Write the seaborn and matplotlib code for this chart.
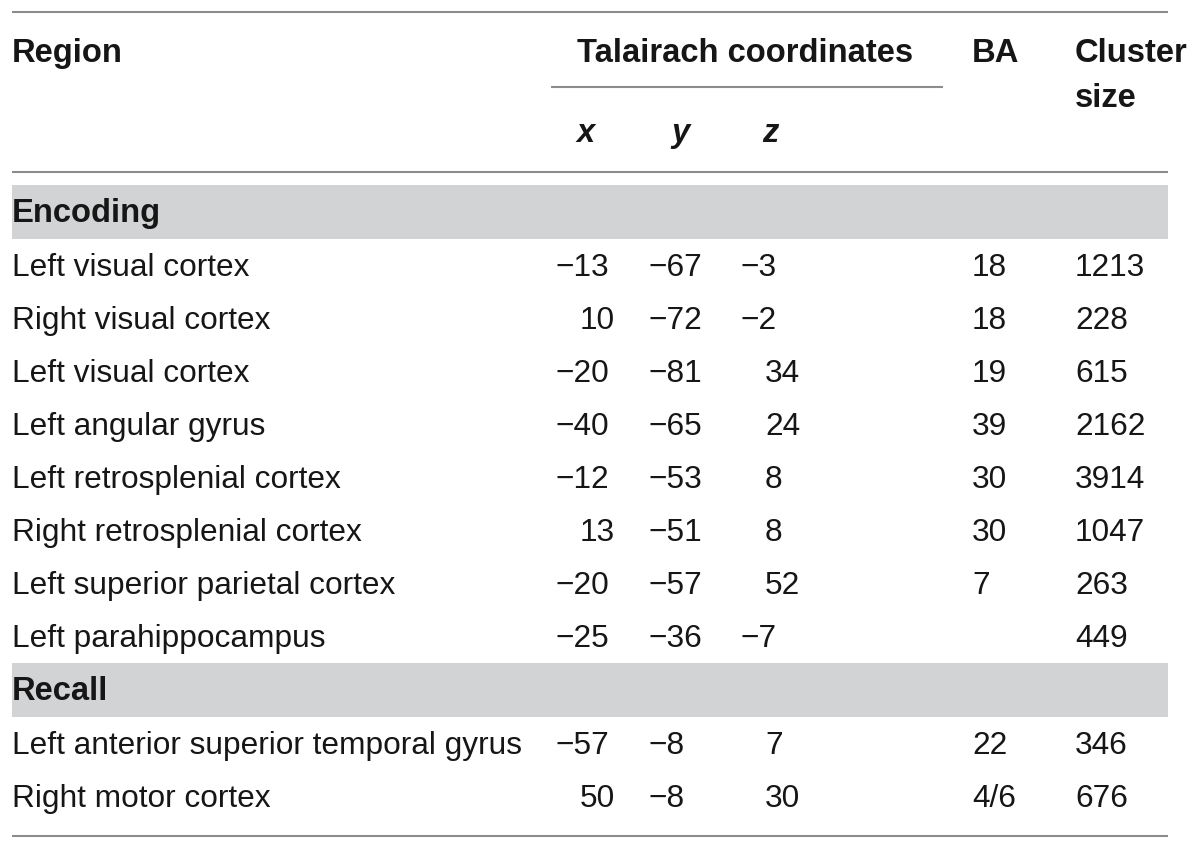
import matplotlib
matplotlib.use("Agg")
import matplotlib.pyplot as plt
import seaborn as sns

# ── Table content ────────────────────────────────────────────────────────────
SECTIONS = ["Encoding", "Recall"]
ENC_REGIONS = ["Left visual cortex", "Right visual cortex", "Left visual cortex",
               "Left angular gyrus", "Left retrosplenial cortex",
               "Right retrosplenial cortex", "Left superior parietal cortex",
               "Left parahippocampus"]
ENC_X = [-13, 10, -20, -40, -12, 13, -20, -25]
ENC_Y = [-67, -72, -81, -65, -53, -51, -57, -36]
ENC_Z = [-3, -2, 34, 24, 8, 8, 52, -7]
ENC_BA = ["18", "18", "19", "39", "30", "30", "7", ""]
ENC_SIZE = [1213, 228, 615, 2162, 3914, 1047, 263, 449]

REC_REGIONS = ["Left anterior superior temporal gyrus", "Right motor cortex"]
REC_X = [-57, 50]
REC_Y = [-8, -8]
REC_Z = [7, 30]
REC_BA = ["22", "4/6"]
REC_SIZE = [346, 676]

# ── Style ────────────────────────────────────────────────────────────────────
sns.set_theme(style="white")
plt.rcParams["font.family"] = ["Liberation Sans", "DejaVu Sans"]

INK = "#161616"
RULE = "#8c8c8c"
BAND = "#d1d3d4"
FS = 22.8     # body text
FSB = 23.6    # bold header / section text

# layout in pixel units (0..1200 x 0..849, y downwards)
LEFT, RIGHT = 12, 1168
COL_X, COL_Y, COL_Z = 555, 648, 740
COL_BA, COL_SIZE = 972, 1075
MINUS_W = 25
ROW_H = 53

fig = plt.figure(figsize=(12, 8.49), dpi=100)
ax = fig.add_axes([0, 0, 1, 1])
ax.set_xlim(0, 1200)
ax.set_ylim(849, 0)
ax.axis("off")


def rule(y, x0=LEFT, x1=RIGHT):
    ax.plot([x0, x1], [y, y], color=RULE, lw=1.5, solid_capstyle="butt")


def num(xcol, y, v):
    s = f"\u2212{abs(v)}" if v < 0 else str(v)
    x = xcol if v < 0 else xcol + MINUS_W
    ax.text(x, y, s, fontsize=FS, color=INK, ha="left", va="baseline")


# header
rule(12)
ax.text(LEFT, 62, "Region", fontsize=FSB, fontweight="bold", color=INK, va="baseline")
ax.text(745, 62, "Talairach coordinates", fontsize=FSB, fontweight="bold",
        color=INK, ha="center", va="baseline")
rule(87, 551, 943)
ax.text(COL_BA, 62, "BA", fontsize=FSB, fontweight="bold", color=INK, va="baseline")
ax.text(COL_SIZE, 62, "Cluster", fontsize=FSB, fontweight="bold", color=INK, va="baseline")
ax.text(COL_SIZE, 107, "size", fontsize=FSB, fontweight="bold", color=INK, va="baseline")
for xc, lab in zip([586, 680, 770], ["x", "y", "z"]):
    ax.text(xc, 142, lab, fontsize=FSB, fontweight="bold", style="italic",
            color=INK, ha="center", va="baseline")
rule(172)

# body
blocks = [
    (185, ENC_REGIONS, ENC_X, ENC_Y, ENC_Z, ENC_BA, ENC_SIZE),
    (663, REC_REGIONS, REC_X, REC_Y, REC_Z, REC_BA, REC_SIZE),
]
for name, (top, regions, xs, ys, zs, bas, sizes) in zip(SECTIONS, blocks):
    ax.axhspan(top, top + 54, xmin=LEFT / 1200, xmax=RIGHT / 1200, color=BAND, lw=0)
    ax.text(LEFT, top + 37, name, fontsize=FSB, fontweight="bold", color=INK, va="baseline")
    for i, reg in enumerate(regions):
        yb = top + 91 + ROW_H * i
        ax.text(LEFT, yb, reg, fontsize=FS, color=INK, va="baseline")
        num(COL_X, yb, xs[i])
        num(COL_Y, yb, ys[i])
        num(COL_Z, yb, zs[i])
        ax.text(COL_BA, yb, bas[i], fontsize=FS, color=INK, va="baseline")
        ax.text(COL_SIZE, yb, str(sizes[i]), fontsize=FS, color=INK, va="baseline")

rule(836)

fig.savefig("out.png", dpi=100, facecolor="white")
